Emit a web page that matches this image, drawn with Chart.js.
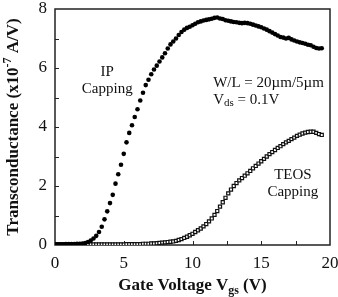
<!DOCTYPE html>
<html>
<head>
<meta charset="utf-8">
<script src="https://cdn.jsdelivr.net/npm/chart.js"></script>
<style>
  html, body { margin: 0; padding: 0; background: #fff; }
  #wrap { width: 338px; height: 297px; }
</style>
</head>
<body>
<div id="wrap"><canvas id="gmChart" width="338" height="297"></canvas></div>
<script>
// Gate voltage (V), sampled every 0.2 V
const vgs = [
  0.0, 0.2, 0.4, 0.6, 0.8, 1.0, 1.2, 1.4, 1.6, 1.8,
  2.0, 2.2, 2.4, 2.6, 2.8, 3.0, 3.2, 3.4, 3.6, 3.8,
  4.0, 4.2, 4.4, 4.6, 4.8, 5.0, 5.2, 5.4, 5.6, 5.8,
  6.0, 6.2, 6.4, 6.6, 6.8, 7.0, 7.2, 7.4, 7.6, 7.8,
  8.0, 8.2, 8.4, 8.6, 8.8, 9.0, 9.2, 9.4, 9.6, 9.8,
  10.0, 10.2, 10.4, 10.6, 10.8, 11.0, 11.2, 11.4, 11.6, 11.8,
  12.0, 12.2, 12.4, 12.6, 12.8, 13.0, 13.2, 13.4, 13.6, 13.8,
  14.0, 14.2, 14.4, 14.6, 14.8, 15.0, 15.2, 15.4, 15.6, 15.8,
  16.0, 16.2, 16.4, 16.6, 16.8, 17.0, 17.2, 17.4, 17.6, 17.8,
  18.0, 18.2, 18.4, 18.6, 18.8, 19.0, 19.2, 19.4
];

// Transconductance (x10^-7 A/V)
const ipCapping = [
  0.02, 0.02, 0.02, 0.02, 0.03, 0.03, 0.03, 0.03, 0.04, 0.04,
  0.05, 0.07, 0.10, 0.15, 0.22, 0.31, 0.44, 0.62, 0.87, 1.14,
  1.42, 1.70, 2.08, 2.40, 2.72, 3.09, 3.48, 3.80, 4.06, 4.34,
  4.60, 4.90, 5.16, 5.42, 5.60, 5.79, 5.95, 6.08, 6.22, 6.36,
  6.50, 6.66, 6.80, 6.90, 7.00, 7.12, 7.22, 7.30, 7.36, 7.40,
  7.45, 7.50, 7.55, 7.58, 7.61, 7.63, 7.65, 7.67, 7.70, 7.71,
  7.68, 7.66, 7.62, 7.60, 7.58, 7.56, 7.55, 7.53, 7.52, 7.53,
  7.52, 7.50, 7.47, 7.44, 7.41, 7.38, 7.34, 7.30, 7.25, 7.20,
  7.15, 7.10, 7.05, 7.03, 7.00, 7.02, 6.97, 6.93, 6.90, 6.87,
  6.85, 6.82, 6.79, 6.77, 6.72, 6.68, 6.66, 6.67
];

const teosCapping = [
  0.02, 0.02, 0.02, 0.02, 0.02, 0.02, 0.02, 0.02, 0.02, 0.02,
  0.02, 0.02, 0.02, 0.02, 0.02, 0.02, 0.02, 0.02, 0.02, 0.02,
  0.02, 0.02, 0.02, 0.02, 0.02, 0.02, 0.03, 0.03, 0.03, 0.03,
  0.03, 0.03, 0.04, 0.04, 0.04, 0.05, 0.05, 0.06, 0.07, 0.08,
  0.09, 0.10, 0.11, 0.12, 0.14, 0.17, 0.20, 0.24, 0.28, 0.33,
  0.38, 0.44, 0.50, 0.56, 0.63, 0.71, 0.80, 0.90, 1.02, 1.15,
  1.30, 1.45, 1.60, 1.75, 1.88, 2.00, 2.10, 2.19, 2.27, 2.35,
  2.43, 2.51, 2.60, 2.68, 2.76, 2.84, 2.92, 3.00, 3.08, 3.15,
  3.22, 3.29, 3.35, 3.42, 3.48, 3.53, 3.59, 3.64, 3.70, 3.74,
  3.78, 3.81, 3.83, 3.84, 3.84, 3.80, 3.76, 3.73
];

const xTicks = [0, 5, 10, 15, 20];
const yTicks = [0, 2, 4, 6, 8];

const SERIF = "'Liberation Serif', 'Times New Roman', serif";

function toPoints(ys) {
  return vgs.map((v, i) => ({ x: v, y: ys[i] }));
}

// draws text pieces in a row; pieces with sub/sup get smaller and shifted
function drawRich(ctx, parts, x, y, size, weight) {
  let total = 0;
  parts.forEach(p => {
    ctx.font = weight + " " + (p.sub || p.sup ? size * 0.7 : size) + "px " + SERIF;
    p.w = ctx.measureText(p.t).width;
    total += p.w;
  });
  let cx = x - total / 2;
  parts.forEach(p => {
    const s = p.sub || p.sup ? size * 0.7 : size;
    ctx.font = weight + " " + s + "px " + SERIF;
    const dy = p.sub ? size * 0.3 : (p.sup ? -size * 0.35 : 0);
    ctx.fillText(p.t, cx, y + dy);
    cx += p.w;
  });
}

const framePlugin = {
  id: "frame",
  beforeDatasetsDraw(chart) {
    const { ctx, chartArea: a, scales: { x, y } } = chart;
    ctx.save();
    ctx.strokeStyle = "#222";
    ctx.lineWidth = 1.5;
    ctx.strokeRect(a.left, a.top, a.right - a.left, a.bottom - a.top);
    ctx.lineWidth = 1;
    ctx.beginPath();
    for (let v = 1; v < 8; v++) {
      const py = Math.round(y.getPixelForValue(v)) + 0.5;
      ctx.moveTo(a.left, py);
      ctx.lineTo(a.left + 4, py);
    }
    for (let v = 2.5; v < 20; v += 2.5) {
      const px = Math.round(x.getPixelForValue(v)) + 0.5;
      ctx.moveTo(px, a.bottom);
      ctx.lineTo(px, a.bottom - 4);
    }
    ctx.stroke();
    ctx.restore();
  },
  afterDraw(chart) {
    const { ctx, chartArea: a, scales: { x, y } } = chart;
    ctx.save();
    ctx.fillStyle = "#111";
    ctx.textBaseline = "middle";

    // axis titles
    drawRich(ctx, [{ t: "Gate Voltage V" }, { t: "gs", sub: true }, { t: " (V)" }],
      (a.left + a.right) / 2, 286, 17, "bold");
    ctx.save();
    ctx.translate(14, (a.top + a.bottom) / 2);
    ctx.rotate(-Math.PI / 2);
    drawRich(ctx, [{ t: "Transconductance (x10" }, { t: "-7", sup: true }, { t: " A/V)" }],
      0, 0, 17, "bold");
    ctx.restore();

    // curve labels
    ctx.font = "15px " + SERIF;
    ctx.textAlign = "center";
    ctx.fillText("IP", x.getPixelForValue(3.8), y.getPixelForValue(5.85));
    ctx.fillText("Capping", x.getPixelForValue(3.8), y.getPixelForValue(5.27));
    ctx.fillText("TEOS", x.getPixelForValue(17.3), y.getPixelForValue(2.38));
    ctx.fillText("Capping", x.getPixelForValue(17.3), y.getPixelForValue(1.8));

    ctx.textAlign = "left";
    ctx.fillText("W/L = 20\u00b5m/5\u00b5m", x.getPixelForValue(11.5), y.getPixelForValue(5.5));
    const vx = x.getPixelForValue(11.5);
    const vy = y.getPixelForValue(4.93);
    ctx.fillText("V", vx, vy);
    const vw = ctx.measureText("V").width;
    ctx.font = "11px " + SERIF;
    ctx.fillText("ds", vx + vw, vy + 4);
    const dw = ctx.measureText("ds").width;
    ctx.font = "15px " + SERIF;
    ctx.fillText(" = 0.1V", vx + vw + dw, vy);
    ctx.restore();
  }
};

new Chart(document.getElementById("gmChart"), {
  type: "line",
  data: {
    datasets: [
      {
        label: "IP Capping",
        data: toPoints(ipCapping),
        showLine: false,
        pointStyle: "circle",
        pointRadius: 2.3,
        pointBackgroundColor: "#000",
        pointBorderColor: "#000",
        pointBorderWidth: 0
      },
      {
        label: "TEOS Capping",
        data: toPoints(teosCapping),
        showLine: false,
        pointStyle: "rect",
        pointRadius: 2.2,
        pointBackgroundColor: "#fff",
        pointBorderColor: "#111",
        pointBorderWidth: 1.2
      }
    ]
  },
  options: {
    responsive: false,
    animation: false,
    devicePixelRatio: 1,
    layout: { padding: 0 },
    plugins: { legend: { display: false }, tooltip: { enabled: false } },
    scales: {
      x: {
        type: "linear",
        min: 0,
        max: 20,
        afterBuildTicks(s) { s.ticks = xTicks.map(v => ({ value: v })); },
        afterFit(s) {
          s.height = 52;
          s.paddingLeft = 0;
          s.paddingRight = 8;
        },
        grid: { display: false, drawTicks: false },
        border: { display: false },
        ticks: { color: "#111", padding: 8, font: { family: SERIF, size: 17 } }
      },
      y: {
        min: 0,
        max: 8,
        afterBuildTicks(s) { s.ticks = yTicks.map(v => ({ value: v })); },
        afterFit(s) {
          s.width = 55;
          s.paddingTop = 9;
          s.paddingBottom = 0;
        },
        grid: { display: false, drawTicks: false },
        border: { display: false },
        ticks: { color: "#111", padding: 8, font: { family: SERIF, size: 17 } }
      }
    }
  },
  plugins: [framePlugin]
});
</script>
</body>
</html>
